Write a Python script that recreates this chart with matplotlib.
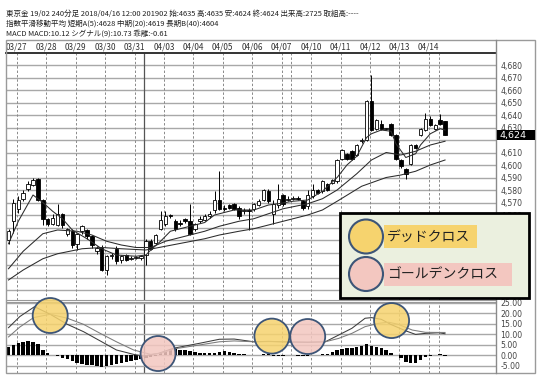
import matplotlib
matplotlib.use('Agg')
import matplotlib.pyplot as plt
from matplotlib.patches import Rectangle, Circle
from matplotlib.ticker import FuncFormatter
from matplotlib import transforms

plt.rcParams['font.family'] = ['Noto Sans CJK JP', 'DejaVu Sans']

W, H = 544, 383

header = [
    '東京金 19/02 240分足 2018/04/16 12:00 201902 始:4635 高:4635 安:4624 終:4624 出来高:2725 取組高:----',
    '指数平滑移動平均 短期A(5):4628 中期(20):4619 長期B(40):4604',
    'MACD MACD:10.12 シグナル(9):10.73 乖離:-0.61',
]

dates = ['03/27', '03/28', '03/29', '03/30', '03/31', '04/03', '04/04', '04/05',
         '04/06', '04/07', '04/10', '04/11', '04/12', '04/13', '04/14']

# 240分足 OHLC
opens = [4540, 4555, 4565, 4573, 4581, 4584, 4589, 4572, 4557, 4553,
         4552, 4561, 4545, 4547, 4537, 4547, 4548, 4543, 4531, 4534,
         4516, 4527, 4533, 4524, 4528, 4525, 4526, 4526, 4528, 4539,
         4538, 4549, 4553, 4560, 4555, 4554, 4557, 4555, 4549, 4555,
         4556, 4559, 4564, 4572, 4566, 4568, 4569, 4566, 4563, 4564,
         4565, 4568, 4572, 4579, 4561, 4568, 4576, 4572, 4573, 4574,
         4571, 4567, 4575, 4580, 4579, 4585, 4586, 4587, 4605, 4609,
         4611, 4608, 4619, 4620, 4651, 4629, 4633, 4629, 4633, 4624,
         4604, 4597, 4601, 4616, 4624, 4628, 4637, 4629, 4636, 4635]
highs = [4549, 4573, 4575, 4580, 4587, 4590, 4590, 4573, 4558, 4561,
         4569, 4562, 4550, 4549, 4546, 4552, 4549, 4544, 4535, 4536,
         4528, 4530, 4535, 4528, 4529, 4527, 4527, 4528, 4541, 4541,
         4545, 4563, 4563, 4561, 4557, 4556, 4558, 4569, 4554, 4559,
         4561, 4563, 4579, 4595, 4568, 4569, 4570, 4567, 4566, 4566,
         4570, 4573, 4581, 4581, 4572, 4585, 4577, 4575, 4575, 4575,
         4572, 4580, 4585, 4581, 4588, 4586, 4589, 4605, 4613, 4610,
         4612, 4617, 4622, 4652, 4672, 4637, 4636, 4630, 4634, 4625,
         4605, 4598, 4617, 4617, 4630, 4642, 4639, 4633, 4641, 4635]
lows = [4537, 4546, 4562, 4571, 4579, 4583, 4571, 4552, 4551, 4552,
        4551, 4550, 4543, 4534, 4532, 4545, 4541, 4534, 4529, 4515,
        4512, 4525, 4521, 4522, 4523, 4524, 4525, 4524, 4520, 4532,
        4537, 4548, 4551, 4558, 4547, 4551, 4554, 4544, 4547, 4554,
        4555, 4558, 4562, 4564, 4563, 4565, 4564, 4557, 4561, 4548,
        4563, 4567, 4571, 4570, 4553, 4566, 4567, 4571, 4572, 4572,
        4564, 4565, 4574, 4577, 4578, 4579, 4585, 4586, 4604, 4604,
        4604, 4607, 4618, 4619, 4627, 4628, 4628, 4628, 4623, 4604,
        4598, 4589, 4600, 4613, 4623, 4627, 4631, 4628, 4632, 4624]
closes = [4547, 4570, 4572, 4578, 4585, 4588, 4572, 4557, 4553, 4558,
          4561, 4552, 4549, 4536, 4545, 4551, 4543, 4536, 4534, 4516,
          4527, 4528, 4523, 4527, 4524, 4526, 4526, 4527, 4539, 4533,
          4544, 4556, 4559, 4559, 4549, 4553, 4555, 4545, 4553, 4557,
          4559, 4561, 4572, 4565, 4565, 4566, 4565, 4559, 4564, 4563,
          4569, 4571, 4580, 4571, 4569, 4573, 4569, 4573, 4574, 4573,
          4566, 4576, 4580, 4578, 4587, 4580, 4588, 4604, 4612, 4605,
          4605, 4616, 4620, 4651, 4628, 4636, 4629, 4629, 4624, 4605,
          4599, 4593, 4616, 4614, 4629, 4637, 4632, 4632, 4633, 4624]

# 指数平滑移動平均
ema5_idx = [0, 2, 5, 7, 9, 11, 13, 16, 19, 22, 26, 28, 29, 31, 33, 37, 40, 42, 46, 50,
            53, 55, 58, 61, 64, 67, 69, 71, 73, 74, 76, 78, 79, 81, 83, 84, 86, 88, 89]
ema5_val = [4537, 4555, 4576, 4570, 4563, 4557, 4548, 4541, 4533, 4528, 4527, 4528, 4532,
            4539, 4547, 4551, 4554, 4560, 4564, 4564, 4568, 4569, 4571, 4572, 4579, 4590,
            4600, 4607, 4622, 4625, 4628, 4627, 4617, 4606, 4609, 4616, 4625, 4629, 4628]
ema20_idx = [0, 3, 7, 10, 14, 17, 20, 23, 26, 29, 32, 36, 40, 43, 47, 50, 53, 56, 61, 64,
             67, 71, 74, 77, 80, 83, 86, 89]
ema20_val = [4517, 4531, 4545, 4548, 4547, 4544, 4539, 4536, 4534, 4534, 4539, 4543, 4547,
             4551, 4555, 4557, 4561, 4565, 4569, 4573, 4580, 4593, 4604, 4610, 4608, 4611,
             4616, 4619]
ema40_idx = [0, 3, 7, 10, 15, 19, 23, 28, 32, 36, 40, 43, 47, 50, 53, 56, 61, 64, 67, 72,
             77, 80, 83, 86, 89]
ema40_val = [4508, 4516, 4525, 4529, 4533, 4534, 4533, 4532, 4535, 4538, 4541, 4544, 4547,
             4549, 4552, 4555, 4560, 4564, 4571, 4583, 4590, 4592, 4595, 4600, 4604]

# MACD
macd_idx = [0, 2.3, 5.3, 8.5, 12, 15.3, 18.7, 22, 25.5, 27.5, 30.6, 33.6, 39, 43, 46, 50,
            53, 57, 61, 64.6, 67.3, 70, 72.7, 74, 76, 78, 81, 83, 85, 87.7, 89]
macd_val = [13, 18.3, 23, 19.4, 14.6, 11.1, 6.7, 2.4, 0.3, -0.5, 0.8, 3.2, 5.6, 7.5, 7.6,
            6.3, 6.5, 6.2, 6.0, 6.3, 9.5, 12.7, 17.5, 17.8, 17.0, 14.5, 11.5, 9.8, 10.3,
            10.6, 10.12]
sig_idx = [0, 2.3, 5.1, 8.5, 12, 15.3, 18.7, 22, 25.5, 29, 31, 34, 39, 43, 46, 50, 53, 57,
           61, 64.6, 67.3, 70, 72.7, 75.5, 77.5, 79.5, 82.3, 85, 89]
sig_val = [8.6, 13.3, 17.8, 19.4, 17.5, 14.6, 10.3, 6.3, 2.4, 0.3, 0.8, 3.0, 4.8, 6.3, 6.7,
           6.3, 6.4, 6.3, 6.2, 6.3, 7.9, 10.3, 13.5, 15.1, 15.6, 14.6, 11.9, 10.8, 10.73]
hist = [4.0, 5.0, 5.7, 6.2, 6.5, 6.4, 5.2, 2.4, 0.8, 0.2,
        -0.6, -1.2, -2.0, -2.8, -3.6, -4.2, -4.6, -4.8, -5.1, -5.6,
        -5.3, -4.9, -4.5, -4.0, -3.5, -3.0, -2.4, -1.8, -1.3, -0.8,
        -0.3, 0.8, 1.6, 2.8, 3.2, 2.6, 2.4, 1.8, 1.2, 1.0,
        0.9, 0.9, 1.0, 1.6, 1.7, 1.4, 1.0, 0.6, 0.3, 0.2,
        0.1, 0.0, 0.3, 0.3, -0.3, -0.3, -0.3, 0.0, 0.0, -0.3,
        -0.3, -0.3, 0.0, 0.1, 0.3, 0.3, 1.6, 2.4, 2.9, 3.2,
        3.5, 4.0, 4.3, 5.1, 4.4, 4.0, 3.2, 2.4, 0.8, 0.0,
        -1.6, -3.2, -4.0, -3.6, -2.4, -0.8, -0.3, 0.0, 0.3, -0.61]

# crosses marked on the MACD pane: (bar, value, kind)
crosses = [(8.5, 18.8, 'dead'), (30.5, 0.7, 'golden'), (53.7, 9.0, 'dead'),
           (61.0, 8.8, 'golden'), (78.1, 16.4, 'dead')]

last_price = 4624

day_pos = [1.7 + 6 * k for k in range(len(dates))]
week_pos = [57.6, 87.7]
month_pos = 27.6

YELLOW = '#f6d36e'
PINK = '#f3c7c0'
RING = '#3d5577'
GRID = '#a8a8a8'

fig = plt.figure(figsize=(W / 100, H / 100), dpi=100)


def frect(x0, y0, x1, y1):
    return [x0 / W, 1 - y1 / H, (x1 - x0) / W, (y1 - y0) / H]


xlim = (-0.51, 99.39)
ax_d = fig.add_axes(frect(6, 40, 496, 53))
ax = fig.add_axes(frect(6, 53, 496, 300))
axm = fig.add_axes(frect(6, 302, 496, 373))

# header text
for k, line in enumerate(header):
    fig.text(6 / W, 1 - (14 + 9.6 * k) / H, line, fontsize=5.4, color='#222222', va='center')

# date row
ax_d.set_xlim(*xlim)
ax_d.set_ylim(0, 1)
ax_d.axis('off')
for p, d in zip(day_pos, dates):
    ax_d.text(p, 0.45, d, ha='center', va='center', fontsize=5.9, color='#333333')

# price pane
ax.set_xlim(*xlim)
ax.set_ylim(4492, 4689.6)
for v in range(4500, 4690, 10):
    ax.axhline(v, color=GRID, lw=1.0, zorder=1)
for p in day_pos + week_pos:
    for a in (ax, axm):
        a.axvline(p, color='#8a8a8a', lw=0.7, ls=(0, (2.5, 2)), zorder=1)
for a in (ax, axm):
    a.axvline(month_pos, color='#555555', lw=0.9, zorder=1)

for i in range(len(opens)):
    o, h, l, c = opens[i], highs[i], lows[i], closes[i]
    ax.vlines(i, l, h, color='black', lw=0.7, zorder=3)
    body = max(abs(c - o), 0.8)
    ax.bar(i, body, bottom=min(o, c), width=0.7,
           color='white' if c >= o else 'black', edgecolor='black', lw=0.6, zorder=4)

for xs, ys in ((ema5_idx, ema5_val), (ema20_idx, ema20_val), (ema40_idx, ema40_val)):
    ax.plot(xs, ys, color='#2b2b2b', lw=0.75, zorder=5)

# 4,620 sits under the price tag in the original, so it gets no label
price_ticks = [v for v in range(4500, 4690, 10) if v != 4620]
ax.yaxis.tick_right()
ax.set_yticks(price_ticks)
ax.yaxis.set_major_formatter(FuncFormatter(lambda v, p: f'{int(v):,}'))
ax.tick_params(axis='y', length=0, pad=3.2, labelsize=6, labelcolor='#444444')
for t in ax.get_yticklabels():
    t.set_family('DejaVu Sans')
    t.set_fontsize(5.6)
ax.tick_params(axis='x', bottom=False, labelbottom=False)
for s in ax.spines.values():
    s.set_visible(False)
ax.spines['bottom'].set_visible(True)
ax.spines['bottom'].set_color('#999999')
ax.spines['top'].set_visible(True)
ax.spines['top'].set_color('#333333')
ax.spines['top'].set_linewidth(1.4)

# MACD pane
axm.set_xlim(*xlim)
axm.set_ylim(-8.57, 25.24)
for v in range(-5, 30, 5):
    axm.axhline(v, color=GRID, lw=1.0, zorder=1)
axm.bar(range(len(hist)), hist, width=0.7, color='black', zorder=3)
axm.plot(macd_idx, macd_val, color='#3c3c3c', lw=0.75, zorder=4)
axm.plot(sig_idx, sig_val, color='#7a7a7a', lw=0.75, zorder=4)
axm.yaxis.tick_right()
axm.set_yticks(range(-5, 30, 5))
axm.yaxis.set_major_formatter(FuncFormatter(lambda v, p: f'{v:.2f}'))
axm.tick_params(axis='y', length=0, pad=3.2, labelsize=6, labelcolor='#444444')
for t in axm.get_yticklabels():
    t.set_family('DejaVu Sans')
    t.set_fontsize(5.6)
axm.tick_params(axis='x', bottom=False, labelbottom=False)
for s in axm.spines.values():
    s.set_visible(False)
axm.spines['top'].set_visible(True)
axm.spines['top'].set_color('#999999')

r_in = 0.175
for bx, mv, kind in crosses:
    tr = fig.dpi_scale_trans + transforms.ScaledTranslation(bx, mv, axm.transData)
    axm.add_patch(Circle((0, 0), r_in, transform=tr, clip_on=False, zorder=6,
                         facecolor=YELLOW if kind == 'dead' else PINK, alpha=0.85,
                         edgecolor='none'))
    axm.add_patch(Circle((0, 0), r_in, transform=tr, clip_on=False, zorder=7,
                         facecolor='none', edgecolor=RING, lw=1.3))

# outer frame and right axis divider
fig.add_artist(Rectangle((6 / W, 1 - 373 / H), 529 / W, 333 / H, transform=fig.transFigure,
                         fill=False, edgecolor='#9a9a9a', lw=1.0))
fig.add_artist(plt.Line2D([496 / W, 496 / W], [1 - 40 / H, 1 - 373 / H],
                          transform=fig.transFigure, color='#8a8a8a', lw=1.0))

# current price tag
fig.add_artist(Rectangle((497 / W, 1 - 139.5 / H), 38 / W, 9.5 / H, transform=fig.transFigure,
                         facecolor='black', edgecolor='none', zorder=5))
fig.text(499 / W, 1 - 135.6 / H, f'{last_price:,}', color='white', fontsize=6.8,
         family='DejaVu Sans', va='center', zorder=6)

# legend box
fig.add_artist(Rectangle((340 / W, 1 - 298 / H), 189 / W, 85 / H, transform=fig.transFigure,
                         facecolor='#ebf0df', edgecolor='black', lw=2.0, zorder=5))
for yc, col, label, x1 in ((236.5, YELLOW, 'デッドクロス', 477), (274, PINK, 'ゴールデンクロス', 512)):
    fig.add_artist(Rectangle((384 / W, 1 - (yc + 11.5) / H), (x1 - 384) / W, 23 / H,
                             transform=fig.transFigure, facecolor=col, edgecolor='none', zorder=6))
    tr = fig.dpi_scale_trans + transforms.ScaledTranslation(366 / W, 1 - yc / H, fig.transFigure)
    fig.add_artist(Circle((0, 0), 0.17, transform=tr, facecolor=col, edgecolor=RING, lw=1.5,
                          zorder=6))
    fig.text(387 / W, 1 - yc / H, label, fontsize=10, color='#222222', va='center', zorder=7)

fig.savefig('out.png', dpi=100)
